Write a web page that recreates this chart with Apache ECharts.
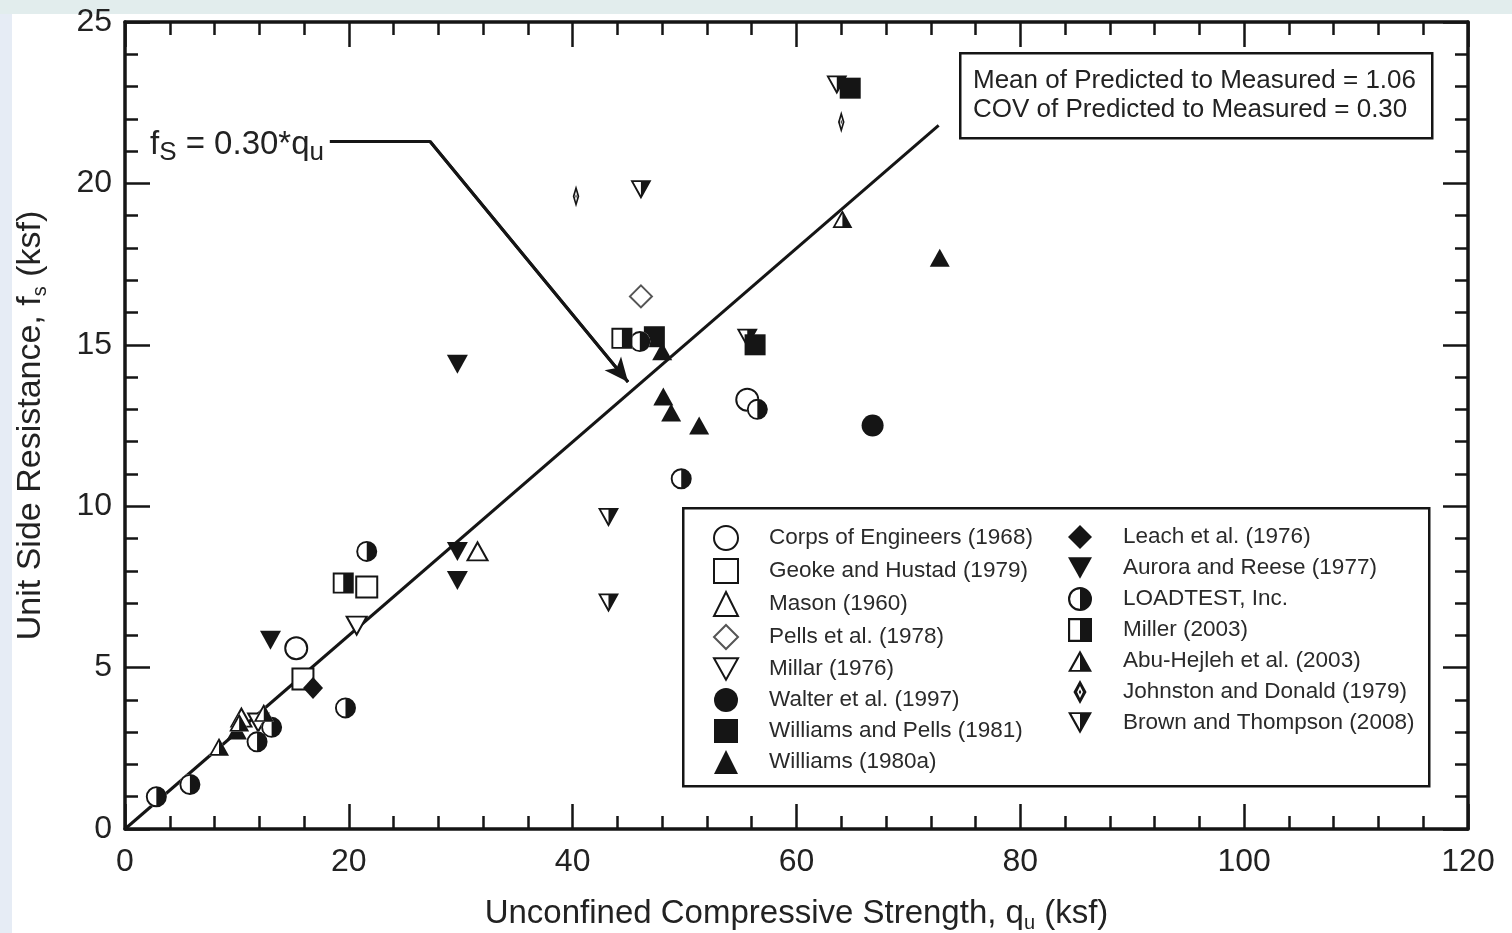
<!DOCTYPE html>
<html>
<head>
<meta charset="utf-8">
<title>Unit side resistance vs unconfined compressive strength</title>
<script src="https://cdn.jsdelivr.net/npm/echarts@6/dist/echarts.min.js"></script>
<style>
  html, body { margin: 0; padding: 0; background: #fff; }
  #chart { width: 1512px; height: 933px; }
</style>
</head>
<body>
<div id="chart"></div>
<script>
// data: [qu (ksf), fs (ksf)]
var corps = [[15.3, 5.6], [55.6, 13.3]];
var geoke = [[15.9, 4.65], [21.6, 7.5]];
var mason = [[31.5, 8.6], [10.4, 3.45]];
var pells = [[46.1, 16.5]];
var millar = [[20.7, 6.3], [11.9, 3.3]];
var walter = [[66.8, 12.5]];
var williamsPells = [[64.8, 22.95], [56.3, 15.0], [47.3, 15.25]];
var williams = [[48.0, 14.8], [48.1, 13.4], [48.8, 12.9], [51.3, 12.5], [72.8, 17.7], [10.0, 3.05]];
var leach = [[16.8, 4.37]];
var aurora = [[13.0, 5.85], [29.7, 8.6], [29.7, 7.7], [29.7, 14.4]];
var loadtest = [[2.8, 1.0], [5.8, 1.38], [11.8, 2.7], [13.1, 3.15], [19.7, 3.75], [21.6, 8.6], [46.0, 15.1], [56.5, 13.0], [49.7, 10.85]];
var miller = [[19.5, 7.62], [44.4, 15.2]];
var abuHejleh = [[8.4, 2.55], [10.2, 3.3], [12.4, 3.6], [64.1, 18.9]];
var johnston = [[40.3, 19.6], [64.0, 21.9]];
var brown = [[46.1, 19.8], [63.6, 23.05], [55.6, 15.2], [43.2, 9.65], [43.2, 7.0]];

var fitLine = [[0, 0], [72.7, 21.8]];
var pointer = [[18.3, 21.3], [27.26, 21.3], [44.95, 13.85]];

var xTicks = [0, 20, 40, 60, 80, 100, 120];
var yTicks = [0, 5, 10, 15, 20, 25];

var legendLeft = ['Corps of Engineers (1968)', 'Geoke and Hustad (1979)', 'Mason (1960)', 'Pells et al. (1978)',
  'Millar (1976)', 'Walter et al. (1997)', 'Williams and Pells (1981)', 'Williams (1980a)'];
var legendRight = ['Leach et al. (1976)', 'Aurora and Reese (1977)', 'LOADTEST, Inc.', 'Miller (2003)',
  'Abu-Hejleh et al. (2003)', 'Johnston and Donald (1979)', 'Brown and Thompson (2008)'];

var FONT = 'Liberation Sans, Arial, sans-serif';
var INK = '#151515';

// half-filled symbols: outline ring + right half
var halfCircle = 'path://M0 10A10 10 0 1 1 20 10A10 10 0 1 1 0 10Z' +
  'M1.8 10A8.2 8.2 0 1 0 18.2 10A8.2 8.2 0 1 0 1.8 10Z' +
  'M10 1.8A8.2 8.2 0 0 1 10 18.2Z';
var halfSquare = 'path://M0 0L20 0L20 20L0 20Z M1.8 1.8L1.8 18.2L18.2 18.2L18.2 1.8Z M10 1.8L18.2 1.8L18.2 18.2L10 18.2Z';
var halfTriUp = 'path://M10 0L20 18L0 18Z M10 3.8L2.9 16.4L17.1 16.4Z M10 3.8L17.1 16.4L10 16.4Z';
var halfTriDown = 'path://M0 0L20 0L10 18Z M2.9 1.6L10 14.2L17.1 1.6Z M10 1.6L17.1 1.6L10 14.2Z';
var triDown = 'path://M0 0L20 0L10 18Z';
var slimDiamond = 'path://M6 0L12 11L6 22L0 11Z M6 5.6L3.3 11L6 16.4L8.7 11Z M6 8.8L7.2 11L6 13.2L4.8 11Z';

function openSym(name, data, symbol, size, rotate, border) {
  return {
    name: name, type: 'scatter', data: data, symbol: symbol, symbolSize: size,
    symbolRotate: rotate || 0,
    itemStyle: { color: '#fff', borderColor: border || INK, borderWidth: 2, opacity: 1 },
    z: 3
  };
}
function solidSym(name, data, symbol, size, rotate) {
  return {
    name: name, type: 'scatter', data: data, symbol: symbol, symbolSize: size,
    symbolRotate: rotate || 0,
    itemStyle: { color: INK, opacity: 1 },
    z: 3
  };
}
function underlay(data, symbol, size) {
  return {
    name: '_bg', type: 'scatter', data: data, symbol: symbol, symbolSize: size,
    itemStyle: { color: '#fff', opacity: 1 }, silent: true, z: 3
  };
}

var chart = echarts.init(document.getElementById('chart'));

var axisLineStyle = { color: INK, width: 3.5 };
function makeX(pos, showLabels) {
  return {
    type: 'value', min: 0, max: 120, interval: 20, position: pos,
    axisLine: { show: true, onZero: false, lineStyle: axisLineStyle },
    axisTick: { show: true, inside: true, length: 25, lineStyle: { color: INK, width: 2.5 } },
    minorTick: { show: true, splitNumber: 5, length: 13, lineStyle: { color: INK, width: 2.5 } },
    splitLine: { show: false },
    axisLabel: {
      show: showLabels, margin: 17, fontSize: 32, color: '#222', fontFamily: FONT,
      showMinLabel: true, showMaxLabel: true,
      formatter: function (v) { return xTicks.indexOf(v) >= 0 ? String(v) : ''; }
    }
  };
}
function makeY(pos, showLabels) {
  return {
    type: 'value', min: 0, max: 25, interval: 5, position: pos,
    axisLine: { show: true, onZero: false, lineStyle: axisLineStyle },
    axisTick: { show: true, inside: true, length: 25, lineStyle: { color: INK, width: 2.5 } },
    minorTick: { show: true, splitNumber: 5, length: 13, lineStyle: { color: INK, width: 2.5 } },
    splitLine: { show: false },
    axisLabel: {
      show: showLabels, margin: 13, fontSize: 32, color: '#222', fontFamily: FONT,
      showMinLabel: true, showMaxLabel: true,
      formatter: function (v) { return yTicks.indexOf(v) >= 0 ? String(v) : ''; }
    }
  };
}

var xMain = makeX('bottom', true);
xMain.name = 'Unconfined Compressive Strength, q{sub|u} (ksf)';
xMain.nameLocation = 'middle';
xMain.nameGap = 66;
xMain.nameTextStyle = {
  fontSize: 33, color: '#222', fontFamily: FONT,
  rich: { sub: { fontSize: 20, fontFamily: FONT, color: '#222', padding: [18, 0, 0, 0] } }
};
var yMain = makeY('left', true);
yMain.name = 'Unit Side Resistance, f{sub|s} (ksf)';
yMain.nameLocation = 'middle';
yMain.nameGap = 75;
yMain.nameTextStyle = {
  fontSize: 34, color: '#222', fontFamily: FONT,
  rich: { sub: { fontSize: 20, fontFamily: FONT, color: '#222', padding: [18, 0, 0, 0] } }
};

var legendCommon = {
  orient: 'vertical',
  padding: 0,
  itemWidth: 24, itemHeight: 24, itemGap: 7,
  selectedMode: false,
  textStyle: { fontSize: 22.5, lineHeight: 24, color: '#2a2a2a', fontFamily: FONT, padding: [0, 0, 0, 26] },
  itemStyle: { borderWidth: 'inherit' }
};

var option = {
  animation: false,
  backgroundColor: '#fff',
  grid: { left: 125, top: 22, right: 44, bottom: 104, containLabel: false, outerBoundsMode: 'none' },
  xAxis: [xMain, makeX('top', false)],
  yAxis: [yMain, makeY('right', false)],
  legend: [
    Object.assign({}, legendCommon, { left: 713, top: 525, data: legendLeft }),
    Object.assign({}, legendCommon, { left: 1068, top: 525, data: legendRight })
  ],
  graphic: [
    { type: 'rect', left: 0, top: 0, z: -10, shape: { width: 1512, height: 14 }, style: { fill: '#e2eded' } },
    { type: 'rect', left: 0, top: 14, z: -10, shape: { width: 12, height: 919 }, style: { fill: '#e6ecf5' } },
    { type: 'rect', left: 682, top: 507, z: 1, shape: { width: 746, height: 278 },
      style: { fill: '#fff', stroke: INK, lineWidth: 2.5 } },
    { type: 'rect', left: 959, top: 52, z: 1, shape: { width: 472, height: 85 },
      style: { fill: '#fff', stroke: INK, lineWidth: 2.5 } },
    { type: 'text', left: 973, top: 66, z: 2,
      style: { text: 'Mean of Predicted to Measured = 1.06\nCOV of Predicted to Measured = 0.30',
        font: '26px ' + FONT, fill: '#222', lineHeight: 29 } },
    { type: 'text', left: 150, top: 128, z: 2,
      style: {
        text: '{n|f}{s|S}{n| = 0.30*q}{s|u}',
        rich: {
          n: { fontSize: 33, fontFamily: FONT, fill: '#222', color: '#222' },
          s: { fontSize: 26, fontFamily: FONT, fill: '#222', color: '#222', padding: [16, 0, 0, 0] }
        }
      } }
  ],
  series: [
    { name: '_fit', type: 'line', data: fitLine, symbol: 'none', silent: true,
      lineStyle: { color: INK, width: 3 }, z: 2 },
    { name: '_pointer', type: 'line', data: pointer, symbol: 'none', silent: true,
      lineStyle: { color: INK, width: 3 }, z: 2,
      markLine: {
        silent: true, symbol: ['none', 'arrow'], symbolSize: [16, 24],
        label: { show: false },
        lineStyle: { color: INK, width: 3, type: 'solid' },
        data: [[{ coord: pointer[1] }, { coord: pointer[2] }]]
      } },
    openSym('Corps of Engineers (1968)', corps, 'circle', 22),
    openSym('Geoke and Hustad (1979)', geoke, 'rect', 21),
    openSym('Mason (1960)', mason, 'triangle', [20, 18]),
    openSym('Pells et al. (1978)', pells, 'diamond', 22, 0, '#555'),
    openSym('Millar (1976)', millar, triDown, [20, 18]),
    underlay(brown, triDown, [21, 19]),
    solidSym('Brown and Thompson (2008)', brown, halfTriDown, [21, 19]),
    solidSym('Walter et al. (1997)', walter, 'circle', 22),
    solidSym('Williams and Pells (1981)', williamsPells, 'rect', 21),
    solidSym('Williams (1980a)', williams, 'triangle', [20, 18]),
    solidSym('Leach et al. (1976)', leach, 'diamond', [20, 22]),
    solidSym('Aurora and Reese (1977)', aurora, triDown, [21, 19]),
    underlay(loadtest, 'circle', 21),
    solidSym('LOADTEST, Inc.', loadtest, halfCircle, 21),
    underlay(miller, 'rect', 21),
    solidSym('Miller (2003)', miller, halfSquare, 21),
    underlay(abuHejleh, 'triangle', [20, 18]),
    solidSym('Abu-Hejleh et al. (2003)', abuHejleh, halfTriUp, [20, 18]),
    Object.assign(solidSym('Johnston and Donald (1979)', johnston, slimDiamond, [12, 22]), { symbolKeepAspect: true })
  ]
};

chart.setOption(option);
</script>
</body>
</html>
